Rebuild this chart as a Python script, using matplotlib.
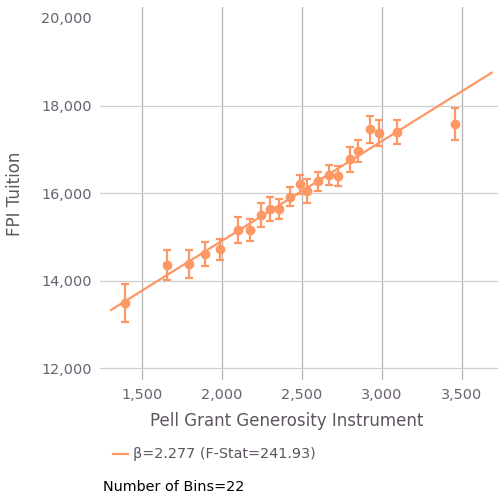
import matplotlib
matplotlib.use("Agg")
import numpy as np
import matplotlib.pyplot as plt

# ----------------------------
# Binned scatter data
# ----------------------------
pell_bins = [1396, 1660, 1794, 1894, 1989, 2102, 2177, 2248, 2304, 2360, 2429,
             2487, 2535, 2600, 2671, 2729, 2802, 2854, 2927, 2981, 3094, 3458]
tuition_means = [13484, 14358, 14381, 14610, 14717, 15157, 15157, 15500, 15637,
                 15637, 15918, 16201, 16048, 16269, 16420, 16390, 16771, 16961,
                 17463, 17379, 17401, 17584]
tuition_err = [438, 335, 311, 280, 243, 290, 244, 274, 277, 225, 221,
               217, 281, 220, 232, 228, 293, 251, 308, 297, 274, 369]

# Fitted line
beta = 2.277
intercept = 10353
f_stat = 241.93
fit_x_range = [1308, 3687]

x_ticks = [1500, 2000, 2500, 3000, 3500]
y_ticks = [12000, 14000, 16000, 18000, 20000]

orange = "#fd9764"
text_gray = "#5e5560"

fig = plt.figure(figsize=(4.98, 4.96), dpi=100)
ax = fig.add_axes([100 / 498, 116 / 496, 398 / 498, 373 / 496])

ax.errorbar(pell_bins, tuition_means, yerr=tuition_err, fmt="o", color=orange,
            markersize=6, elinewidth=1.6, capsize=3, capthick=1.6, zorder=3)

fx = np.array(fit_x_range)
ax.plot(fx, beta * fx + intercept, color=orange, linewidth=1.6, zorder=2)

ax.set_xlim(1239, 3727)
ax.set_ylim(11733, 20249)
ax.set_xticks(x_ticks)
ax.set_yticks(y_ticks)
ax.set_xticklabels([f"{v:,}" for v in x_ticks])
ax.set_yticklabels([f"{v:,}" for v in y_ticks])
ax.tick_params(length=0, labelsize=10.4, labelcolor="#6a6070", pad=6)

ax.grid(axis="x", color="#b4b4b4", linewidth=0.9)
ax.grid(axis="y", color="#cfcfcf", linewidth=0.9)
ax.yaxis.get_gridlines()[-1].set_visible(False)
ax.set_axisbelow(True)
for s in ax.spines.values():
    s.set_visible(False)

ax.set_xlabel("Pell Grant Generosity Instrument", fontsize=12, color=text_gray)
ax.xaxis.set_label_coords(0.47, -0.085)
ax.set_ylabel("FPI Tuition", fontsize=12, color=text_gray)
ax.yaxis.set_label_coords(-0.19, 0.5)

# Legend entry below the plot
fig.add_artist(plt.Line2D([113 / 498, 128 / 498], [1 - 454 / 496] * 2,
                          color=orange, linewidth=1.6))
fig.text(133 / 498, 1 - 454 / 496, f"β={beta} (F-Stat={f_stat})",
         fontsize=10.4, color=text_gray, va="center")
fig.text(103 / 498, 1 - 487 / 496, f"Number of Bins={len(pell_bins)}",
         fontsize=10.4, color="black", va="center")

fig.savefig("out.png", dpi=100)
